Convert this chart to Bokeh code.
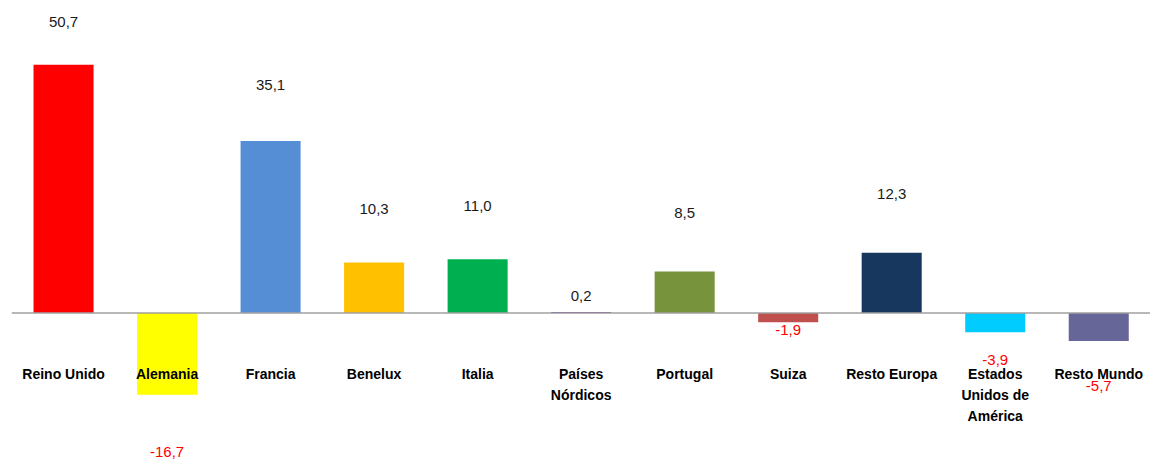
from bokeh.plotting import figure
from bokeh.models import ColumnDataSource, Range1d
from bokeh.core.properties import value
from bokeh.embed import file_html
from bokeh.resources import INLINE

categories = ["Reino Unido", "Alemania", "Francia", "Benelux", "Italia",
              "Países\nNórdicos", "Portugal", "Suiza", "Resto Europa",
              "Estados\nUnidos de\nAmérica", "Resto Mundo"]
values = [50.7, -16.7, 35.1, 10.3, 11.0, 0.2, 8.5, -1.9, 12.3, -3.9, -5.7]
value_labels = ["50,7", "-16,7", "35,1", "10,3", "11,0", "0,2", "8,5",
                "-1,9", "12,3", "-3,9", "-5,7"]
colors = ["#FF0000", "#FFFF00", "#558ED5", "#FFC000", "#00B050", "#7030A0",
          "#77933C", "#C0504D", "#17375E", "#00CCFF", "#666699"]
# vertical positions (data units) of the value labels, as in the reference
label_pos = [59.5, -28.3, 46.6, 21.3, 21.9, 3.4, 20.5, -3.4, 24.4, -9.5, -14.8]

xs = list(range(len(categories)))
label_colors = ["#FF0000" if v < 0 else "#1A1A1A" for v in values]

p = figure(width=1150, height=460, output_backend="svg", toolbar_location=None,
           x_range=Range1d(-0.609, 10.5), y_range=Range1d(-30.1, 63.8),
           min_border=0, min_border_left=0, min_border_right=0,
           min_border_top=0, min_border_bottom=0)
p.axis.visible = False
p.grid.visible = False
p.outline_line_color = None
p.background_fill_color = "white"
p.border_fill_color = "white"

src = ColumnDataSource(dict(x=xs, top=values, color=colors,
                            lab=value_labels, ly=label_pos, lc=label_colors))
p.vbar(x="x", top="top", bottom=0, width=0.58, fill_color="color",
       line_color=None, source=src)

p.segment(x0=[-0.5], y0=[0], x1=[10.5], y1=[0], line_color="#A0A0A0", line_width=1.5)

p.text(x="x", y="ly", text="lab", text_color="lc", source=src,
       text_align="center", text_baseline="middle",
       text_font=value("Liberation Sans"), text_font_size="15px")

# category labels, one glyph per line
cx, cy, ct = [], [], []
for i, c in enumerate(categories):
    for j, line in enumerate(c.split("\n")):
        cx.append(i)
        cy.append(-12.35 - 4.29 * j)
        ct.append(line)
p.text(x=cx, y=cy, text=ct, text_align="center", text_baseline="middle",
       text_font=value("Liberation Sans"), text_font_size="14px",
       text_font_style="bold", text_color="#000000")

open("out.html", "w").write(file_html(p, INLINE))
